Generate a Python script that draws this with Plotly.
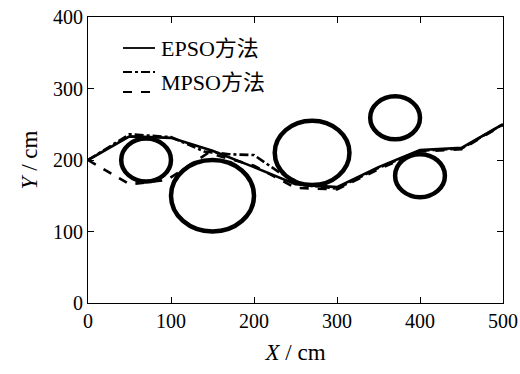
import plotly.graph_objects as go

# Obstacles (circles)
obs_cx = [70, 150, 270, 370, 400]
obs_cy = [200, 150, 210, 259, 178]
obs_r = [30, 50, 45, 30, 30]

# Paths
epso_x = [0, 50, 100, 150, 200, 250, 300, 350, 400, 450, 500]
epso_y = [200, 233, 231, 213, 190, 166, 162, 190, 214, 217, 250]

mpso_x = [0, 50, 100, 140, 170, 200, 230, 260, 300, 350, 400, 450, 500]
mpso_y = [200, 236, 232, 212, 208, 207, 183, 165, 160, 189, 213, 216, 250]

mpso2_x = [0, 50, 95, 145, 200, 250, 300, 350, 400, 450, 500]
mpso2_y = [200, 166, 172, 210, 192, 161, 159, 187, 212, 215, 249]

legend_labels = ["EPSO方法", "MPSO方法"]

font_main = "Times New Roman, Liberation Serif, Noto Sans CJK SC, serif"

fig = go.Figure()
fig.add_trace(go.Scatter(x=epso_x, y=epso_y, mode="lines",
                         line=dict(color="black", width=2.6), showlegend=False))
fig.add_trace(go.Scatter(x=mpso_x, y=mpso_y, mode="lines",
                         line=dict(color="black", width=2.6, dash="dashdot"), showlegend=False))
fig.add_trace(go.Scatter(x=mpso2_x, y=mpso2_y, mode="lines",
                         line=dict(color="black", width=2.6, dash="dash"), showlegend=False))

shapes = []
for cx, cy, r in zip(obs_cx, obs_cy, obs_r):
    shapes.append(dict(type="circle", xref="x", yref="y",
                       x0=cx - r, x1=cx + r, y0=cy - r, y1=cy + r,
                       line=dict(color="black", width=4.5)))

# manual legend samples (paper coords)
W, H = 520, 374
L, R, T, B = 88, 17, 17, 71
pw, ph = W - L - R, H - T - B
def px(xp):
    return (xp - L) / pw
def py(yp):
    return (H - B - yp) / ph

for yy, dash in [(48, "solid"), (72, "dashdot"), (92, "dash")]:
    shapes.append(dict(type="line", xref="paper", yref="paper",
                       x0=px(123), x1=px(155), y0=py(yy), y1=py(yy),
                       line=dict(color="black", width=1.8, dash=dash)))

annotations = [
    dict(text=legend_labels[0], xref="paper", yref="paper", x=px(159), y=py(48),
         xanchor="left", yanchor="middle", showarrow=False,
         font=dict(family=font_main, size=22, color="black")),
    dict(text=legend_labels[1], xref="paper", yref="paper", x=px(159), y=py(82),
         xanchor="left", yanchor="middle", showarrow=False,
         font=dict(family=font_main, size=22, color="black")),
]

fig.update_layout(
    width=W, height=H,
    margin=dict(l=L, r=R, t=T, b=B),
    paper_bgcolor="white", plot_bgcolor="white",
    shapes=shapes, annotations=annotations,
    font=dict(family=font_main, size=20, color="black"),
    showlegend=False,
)
fig.update_xaxes(range=[0, 500], tickvals=[0, 100, 200, 300, 400, 500],
                 showgrid=False, zeroline=False, showline=True, linecolor="black",
                 linewidth=1, mirror="ticks", ticks="inside", ticklen=6,
                 tickcolor="black", tickfont=dict(size=20), automargin=False,
                 title=dict(text="<i>X</i> / cm", font=dict(size=23), standoff=12))
fig.update_yaxes(range=[0, 400], tickvals=[0, 100, 200, 300, 400],
                 showgrid=False, zeroline=False, showline=True, linecolor="black",
                 linewidth=1, mirror="ticks", ticks="inside", ticklen=6,
                 tickcolor="black", tickfont=dict(size=20), automargin=False,
                 title=dict(text="<i>Y</i> / cm", font=dict(size=23), standoff=8))

fig.write_html("out.html")
